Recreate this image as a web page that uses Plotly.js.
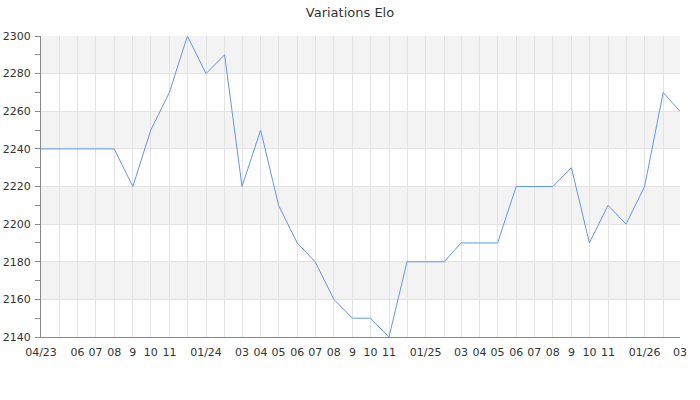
<!DOCTYPE html>
<html>
<head>
<meta charset="utf-8">
<script src="https://cdn.plot.ly/plotly-3.0.1.min.js"></script>
<style>html,body{margin:0;padding:0;background:#fff;}#chart{width:700px;height:400px;}</style>
</head>
<body>
<div id="chart"></div>
<script>
const months = ["2023-04-01","2023-05-01","2023-06-01","2023-07-01","2023-08-01","2023-09-01","2023-10-01","2023-11-01","2023-12-01",
"2024-01-01","2024-02-01","2024-03-01","2024-04-01","2024-05-01","2024-06-01","2024-07-01","2024-08-01","2024-09-01","2024-10-01","2024-11-01","2024-12-01",
"2025-01-01","2025-02-01","2025-03-01","2025-04-01","2025-05-01","2025-06-01","2025-07-01","2025-08-01","2025-09-01","2025-10-01","2025-11-01","2025-12-01",
"2026-01-01","2026-02-01","2026-03-01"];
const elo = [2240,2240,2240,2240,2240,2220,2250,2270,2300,
2280,2290,2220,2250,2210,2190,2180,2160,2150,2150,2140,2180,
2180,2180,2190,2190,2190,2220,2220,2220,2230,2190,2210,2200,
2220,2270,2260];
const tickLabels = ["04/23","","06","07","08","9","10","11","",
"01/24","","03","04","05","06","07","08","9","10","11","",
"01/25","","03","04","05","06","07","08","9","10","11","",
"01/26","","03"];
const yTicks = [2140,2160,2180,2200,2220,2240,2260,2280,2300];
const chartTitle = "Variations Elo";

const shapes = [];
for (let i = 1; i < yTicks.length; i += 2) {
  shapes.push({type:'rect', xref:'paper', x0:0, x1:1, yref:'y', y0:yTicks[i], y1:yTicks[i+1],
    fillcolor:'#f3f3f3', line:{width:0}, layer:'below'});
}

const trace = {x: months, y: elo, type:'scatter', mode:'lines',
  line:{color:'#6495ed', width:1}, hoverinfo:'skip'};

const layout = {
  width:700, height:400,
  margin:{l:41, r:20, t:36, b:63},
  paper_bgcolor:'#fff', plot_bgcolor:'#fff',
  font:{family:'DejaVu Sans', size:11, color:'#333'},
  title:{text:chartTitle, font:{family:'DejaVu Sans', size:13, color:'#333'}, x:0.5, xanchor:'center', y:0.97, yref:'container', yanchor:'middle'},
  showlegend:false,
  shapes: shapes,
  xaxis:{type:'date', range:[months[0], months[months.length-1]], tickmode:'array', tickvals:months, ticktext:tickLabels,
    showgrid:true, gridcolor:'#e3e3e3', gridwidth:1, showline:true, linecolor:'#888', linewidth:1,
    ticks:'', ticklabelstandoff:5, tickfont:{family:'DejaVu Sans', size:11, color:'#333'}, zeroline:false, fixedrange:true},
  yaxis:{range:[yTicks[0], yTicks[yTicks.length-1]], tickmode:'array', tickvals:yTicks,
    showgrid:true, gridcolor:'#e3e3e3', gridwidth:1, showline:true, linecolor:'#888', linewidth:1,
    ticks:'outside', ticklen:5, tickcolor:'#888', ticklabelstandoff:2,
    minor:{dtick:10, tick0:2140, ticks:'outside', ticklen:5, tickcolor:'#888', showgrid:false},
    tickfont:{family:'DejaVu Sans', size:11, color:'#333'}, zeroline:false, fixedrange:true}
};
Plotly.newPlot('chart', [trace], layout, {displayModeBar:false, staticPlot:true});
</script>
</body>
</html>
